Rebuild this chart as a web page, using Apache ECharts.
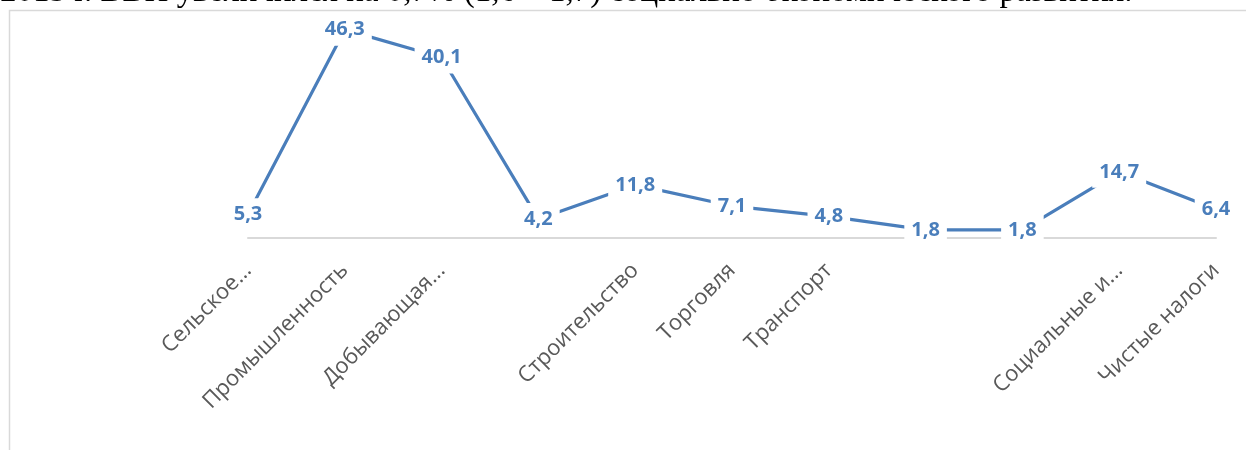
<!DOCTYPE html>
<html>
<head>
<meta charset="utf-8">
<script src="https://cdn.jsdelivr.net/npm/echarts@6/dist/echarts.min.js"></script>
<style>
html,body{margin:0;padding:0;background:#fff;}
#chart{width:1246px;height:450px;}
</style>
</head>
<body>
<div id="chart"></div>
<script>
const categories = ["Сельское...", "Промышленность", "Добывающая...", "", "Строительство", "Торговля", "Транспорт", "", "", "Социальные и...", "Чистые налоги"];
const values = [5.3, 46.3, 40.1, 4.2, 11.8, 7.1, 4.8, 1.8, 1.8, 14.7, 6.4];
const headerText = "2015 г. ВВП увеличился на 0,7% (1,6 – 1,7) социально-экономического развития.";

const chart = echarts.init(document.getElementById('chart'), null, {renderer: 'canvas'});
const blue = '#4A7EBB';
chart.setOption({
  animation: false,
  backgroundColor: '#fff',
  graphic: [
    {type: 'text', left: 0, top: -24, z: 10, style: {text: headerText, font: '33px "Liberation Serif"', fill: '#000'}},
    {type: 'rect', shape: {x: 9.5, y: 10.5, width: 1400, height: 600}, style: {fill: 'none', stroke: '#d9d9d9', lineWidth: 1.5}, z: 0}
  ],
  grid: {left: 248, right: 30, top: 13, bottom: 212, containLabel: false},
  xAxis: {
    type: 'category',
    data: categories,
    boundaryGap: false,
    axisLine: {lineStyle: {color: '#d9d9d9', width: 2}},
    axisTick: {show: false},
    axisLabel: {rotate: 45, margin: 29, interval: 0, color: '#595959', fontFamily: 'Open Sans', fontSize: 22}
  },
  yAxis: {type: 'value', min: 0, max: 50, show: false, splitLine: {show: false}},
  series: [{
    type: 'line',
    data: values,
    symbol: 'circle',
    symbolSize: 0,
    lineStyle: {color: blue, width: 3.2},
    itemStyle: {color: blue},
    label: {
      show: true,
      position: 'inside',
      color: blue,
      fontFamily: 'Open Sans',
      fontWeight: 'bold',
      fontSize: 20,
      backgroundColor: '#fff',
      padding: [6, 7],
      formatter: p => String(p.value).replace('.', ',')
    }
  }]
});
</script>
</body>
</html>
